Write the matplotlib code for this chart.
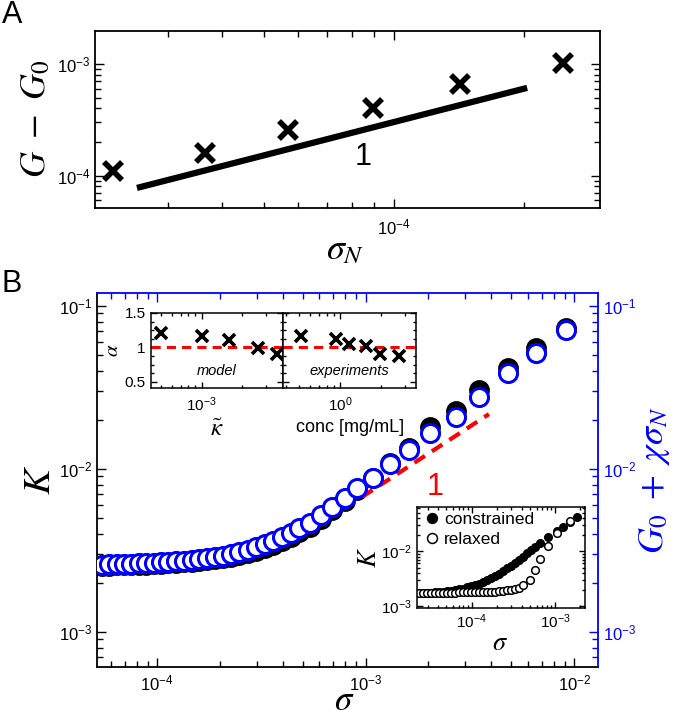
import numpy as np
import matplotlib
matplotlib.use("Agg")
import matplotlib.pyplot as plt
from matplotlib.ticker import NullFormatter, AutoMinorLocator, FixedLocator

plt.rcParams['font.family'] = ['Liberation Sans', 'DejaVu Sans']
plt.rcParams['mathtext.fontset'] = 'stix'

# ---- panel A data ----
sigma_N = [2.24e-5, 3.67e-5, 5.70e-5, 8.96e-5, 1.42e-4, 2.46e-4]
dG = [1.11e-4, 1.59e-4, 2.54e-4, 4.07e-4, 6.56e-4, 1.03e-3]
fit_x = [2.55e-5, 2.03e-4]
fit_y = [7.75e-5, 6.12e-4]

# ---- panel B main data ----
sigma = [5.44e-5, 5.90e-5, 6.39e-5, 6.93e-5, 7.52e-5, 8.16e-5, 8.85e-5, 9.61e-5,
         1.044e-4, 1.134e-4, 1.234e-4, 1.342e-4, 1.462e-4, 1.591e-4, 1.735e-4,
         1.894e-4, 2.069e-4, 2.263e-4, 2.478e-4, 2.717e-4, 2.981e-4, 3.276e-4,
         3.603e-4, 3.968e-4, 4.374e-4, 4.816e-4, 5.41e-4, 6.10e-4, 6.87e-4,
         7.93e-4, 9.06e-4, 1.08e-3, 1.31e-3, 1.62e-3, 2.03e-3, 2.70e-3, 3.50e-3,
         4.83e-3, 6.59e-3, 9.18e-3]
K_constrained = [2.540e-3, 2.540e-3, 2.558e-3, 2.558e-3, 2.576e-3, 2.576e-3, 2.576e-3,
                 2.595e-3, 2.614e-3, 2.632e-3, 2.651e-3, 2.670e-3, 2.689e-3, 2.708e-3,
                 2.746e-3, 2.785e-3, 2.825e-3, 2.885e-3, 2.968e-3, 3.054e-3, 3.143e-3,
                 3.276e-3, 3.419e-3, 3.617e-3, 3.827e-3, 4.108e-3, 4.407e-3, 4.934e-3,
                 5.604e-3, 6.364e-3, 7.433e-3, 8.808e-3, 1.089e-2, 1.345e-2, 1.810e-2,
                 2.269e-2, 3.052e-2, 4.165e-2, 5.524e-2, 7.328e-2]
K_affine = [2.576e-3, 2.595e-3, 2.595e-3, 2.614e-3, 2.614e-3, 2.632e-3, 2.632e-3,
            2.651e-3, 2.670e-3, 2.689e-3, 2.708e-3, 2.727e-3, 2.746e-3, 2.785e-3,
            2.825e-3, 2.865e-3, 2.927e-3, 3.010e-3, 3.097e-3, 3.186e-3, 3.300e-3,
            3.443e-3, 3.617e-3, 3.827e-3, 4.050e-3, 4.345e-3, 4.664e-3, 5.222e-3,
            5.846e-3, 6.640e-3, 7.646e-3, 8.808e-3, 1.073e-2, 1.308e-2, 1.663e-2,
            2.084e-2, 2.765e-2, 3.882e-2, 5.148e-2, 7.125e-2]
slope_x = [7.93e-4, 3.90e-3]
slope_y = [5.74e-3, 2.17e-2]

# ---- alpha inset data ----
kappa = [5.0e-4, 1.0e-3, 1.6e-3, 2.6e-3, 3.6e-3]
alpha_model = [1.21, 1.17, 1.11, 0.99, 0.90]
conc = [0.52, 0.93, 1.17, 1.56, 1.97, 2.71]
alpha_exp = [1.17, 1.12, 1.05, 1.02, 0.91, 0.88]

# ---- constrained / relaxed inset data ----
sig_con = [2.33e-5, 2.60e-5, 2.91e-5, 3.25e-5, 3.63e-5, 4.05e-5, 4.52e-5, 5.05e-5,
           5.64e-5, 6.30e-5, 7.04e-5, 7.86e-5, 8.78e-5, 9.81e-5, 1.095e-4, 1.223e-4,
           1.367e-4, 1.526e-4, 1.705e-4, 1.905e-4, 2.127e-4, 2.376e-4, 2.653e-4,
           2.964e-4, 3.311e-4, 3.697e-4, 4.129e-4, 4.612e-4, 5.151e-4, 5.753e-4,
           6.605e-4, 8.24e-4, 1.057e-3, 1.247e-3, 1.514e-3, 1.837e-3]
K_con = [1.76e-3, 1.76e-3, 1.77e-3, 1.77e-3, 1.79e-3, 1.80e-3, 1.82e-3, 1.86e-3,
         1.90e-3, 1.95e-3, 2.02e-3, 2.09e-3, 2.20e-3, 2.31e-3, 2.43e-3, 2.58e-3,
         2.78e-3, 2.99e-3, 3.25e-3, 3.57e-3, 3.93e-3, 4.36e-3, 4.87e-3, 5.45e-3,
         6.18e-3, 7.00e-3, 8.01e-3, 9.19e-3, 1.054e-2, 1.207e-2, 1.426e-2, 1.80e-2,
         2.31e-2, 2.79e-2, 3.43e-2, 4.15e-2]
sig_rel = [2.33e-5, 2.60e-5, 2.91e-5, 3.25e-5, 3.63e-5, 4.05e-5, 4.52e-5, 5.05e-5,
           5.64e-5, 6.30e-5, 7.04e-5, 7.86e-5, 8.78e-5, 9.81e-5, 1.095e-4, 1.223e-4,
           1.367e-4, 1.526e-4, 1.705e-4, 1.905e-4, 2.127e-4, 2.376e-4, 2.653e-4,
           2.964e-4, 3.311e-4, 3.697e-4, 4.16e-4, 5.01e-4, 5.75e-4, 6.61e-4,
           8.31e-4, 1.048e-3, 1.51e-3]
K_rel = [1.76e-3, 1.76e-3, 1.76e-3, 1.76e-3, 1.76e-3, 1.763e-3, 1.766e-3, 1.768e-3,
         1.771e-3, 1.773e-3, 1.777e-3, 1.781e-3, 1.786e-3, 1.791e-3, 1.799e-3, 1.805e-3,
         1.812e-3, 1.825e-3, 1.838e-3, 1.85e-3, 1.876e-3, 1.90e-3, 1.94e-3, 1.99e-3,
         2.06e-3, 2.15e-3, 2.40e-3, 3.06e-3, 4.63e-3, 7.16e-3, 1.234e-2, 2.18e-2,
         3.56e-2]

W, H = 674, 719


def box(x0, y0, x1, y1):
    # pixel box (top-left origin) -> figure fraction rect
    return [x0 / W, 1 - y1 / H, (x1 - x0) / W, (y1 - y0) / H]


def style(ax, size=12, major=6.5, minor=4, lw=1.3):
    ax.tick_params(which='both', direction='in', top=True, right=True, width=1.0,
                   labelsize=size)
    ax.tick_params(which='major', length=major)
    ax.tick_params(which='minor', length=minor)
    for s in ax.spines.values():
        s.set_linewidth(lw)


fig = plt.figure(figsize=(W / 100, H / 100), dpi=100)

# ================= Panel A =================
axA = fig.add_axes(box(95, 31, 600, 208))
axA.set_xscale('log')
axA.set_yscale('log')
axA.plot(fit_x, fit_y, color='black', lw=4.5, solid_capstyle='butt')
axA.plot(sigma_N, dG, 'x', color='black', ms=13, mew=4)
axA.set_xlim(2.04e-5, 2.99e-4)
axA.set_ylim(5.12e-5, 1.98e-3)
style(axA)
axA.tick_params(axis='x', pad=7)
axA.text(8.47e-5, 1.46e-4, '1', fontsize=22, ha='center', va='center')
fig.text(36 / W, 1 - 119 / H, r'$G\ -\ G_0$', fontsize=26, rotation=90,
         ha='center', va='center')
fig.text(345 / W, 1 - 250 / H, r'$\sigma_N$', fontsize=26, ha='center', va='center')
fig.text(2 / W, 1 - 15 / H, 'A', fontsize=22, ha='left', va='center')

# ================= Panel B =================
rectB = box(97, 293, 598, 667)
axB = fig.add_axes(rectB)
axB.set_xscale('log')
axB.set_yscale('log')
axB.plot(sigma, K_constrained, 'o', ms=13, mfc='black', mec='black', mew=2.0)
axB.plot(slope_x, slope_y, '--', color='red', lw=3, dashes=(3, 2))
axB.set_xlim(5.15e-5, 1.3e-2)
axB.set_ylim(6.1e-4, 0.12)
axB.tick_params(which='both', direction='in', top=False, right=False, width=1.0,
                labelsize=12)
axB.tick_params(which='major', length=6.5)
axB.tick_params(which='minor', length=4)
axB.tick_params(axis='x', pad=5)
for s in axB.spines.values():
    s.set_linewidth(1.3)
axB.spines['top'].set_visible(False)
axB.spines['right'].set_visible(False)
axB.text(2.15e-3, 7.79e-3, '1', color='red', fontsize=22, ha='center', va='center')

axB2 = fig.add_axes(rectB, facecolor='none')
axB2.set_xscale('log')
axB2.set_yscale('log')
axB2.plot(sigma, K_affine, 'o', ms=13, mfc='white', mec='blue', mew=2.2)
axB2.set_xlim(axB.get_xlim())
axB2.set_ylim(axB.get_ylim())
axB2.xaxis.tick_top()
axB2.yaxis.tick_right()
axB2.tick_params(which='both', direction='in', colors='blue', width=1.0,
                 labelsize=12, labeltop=False, labelright=True,
                 left=False, bottom=False, labelleft=False, labelbottom=False)
axB2.tick_params(which='major', length=6.5)
axB2.tick_params(which='minor', length=4)
for k in ['left', 'bottom']:
    axB2.spines[k].set_visible(False)
for k in ['top', 'right']:
    axB2.spines[k].set_color('blue')
    axB2.spines[k].set_linewidth(1.3)

fig.text(40 / W, 1 - 480 / H, r'$K$', fontsize=28, rotation=90, ha='center', va='center')
fig.text(344 / W, 1 - 717 / H, r'$\sigma$', fontsize=25, ha='center', va='bottom')
fig.text(655 / W, 1 - 480 / H, r'$G_0\ +\ \chi\sigma_N$', fontsize=26, rotation=90,
         color='blue', ha='center', va='center')
fig.text(2 / W, 1 - 284 / H, 'B', fontsize=22, ha='left', va='center')

# ---- alpha inset (model | experiments) ----
axM = fig.add_axes(box(150.5, 313, 283.3, 387.5))
axE = fig.add_axes(box(283.3, 313, 416, 387.5))
for ax in (axM, axE):
    ax.set_xscale('log')
    ax.set_ylim(0.42, 1.5)
    ax.axhline(1, color='red', ls='--', lw=2.2, dashes=(3, 2))
    style(ax, size=11, major=4, minor=2.5, lw=1.1)
    ax.yaxis.set_major_locator(FixedLocator([0.5, 1, 1.5]))
    ax.yaxis.set_minor_locator(AutoMinorLocator(4))
    ax.tick_params(axis='x', pad=6)
axM.plot(kappa, alpha_model, 'x', color='black', ms=9, mew=2.6)
axE.plot(conc, alpha_exp, 'x', color='black', ms=9, mew=2.6)
axM.set_xlim(4.2e-4, 4.0e-3)
axE.set_xlim(0.383, 3.62)
axM.set_yticklabels(['0.5', '1', '1.5'])
axE.set_yticklabels([])
axM.set_xticks([1e-3])
axE.set_xticks([1.0])
axM.xaxis.set_minor_formatter(NullFormatter())
axE.xaxis.set_minor_formatter(NullFormatter())
axM.set_ylabel(r'$\alpha$', fontsize=15, labelpad=2)
axM.set_xlabel(r'$\tilde{\kappa}$', fontsize=18, labelpad=2)
axE.set_xlabel('conc [mg/mL]', fontsize=13, labelpad=3)
axM.text(0.5, 0.22, 'model', transform=axM.transAxes, fontsize=10.5, style='italic',
         ha='center', va='center')
axE.text(0.5, 0.22, 'experiments', transform=axE.transAxes, fontsize=10.5,
         style='italic', ha='center', va='center')

# ---- constrained / relaxed inset ----
axI = fig.add_axes(box(416.5, 507, 584.5, 607.5))
axI.set_xscale('log')
axI.set_yscale('log')
axI.plot(sig_con, K_con, 'o', ms=5.5, mfc='black', mec='black', mew=1.0,
         label='constrained')
axI.plot(sig_rel, K_rel, 'o', ms=5.5, mfc='white', mec='black', mew=1.1,
         label='relaxed')
axI.set_xlim(2.19e-5, 2.25e-3)
axI.set_ylim(9.47e-4, 0.0638)
style(axI, size=11, major=4, minor=2.5, lw=1.1)
axI.set_xticks([1e-4, 1e-3])
axI.set_yticks([1e-3, 1e-2])
axI.xaxis.set_minor_formatter(NullFormatter())
axI.yaxis.set_minor_formatter(NullFormatter())
axI.set_ylabel(r'$K$', fontsize=19, labelpad=0)
axI.set_xlabel(r'$\sigma$', fontsize=19, labelpad=0)
axI.legend(loc='upper left', frameon=False, fontsize=12.5, handletextpad=0.1,
           borderaxespad=0.1, labelspacing=0.25, handlelength=1.2,
           borderpad=0.2, markerscale=1.3)

fig.savefig('out.png', dpi=100)
